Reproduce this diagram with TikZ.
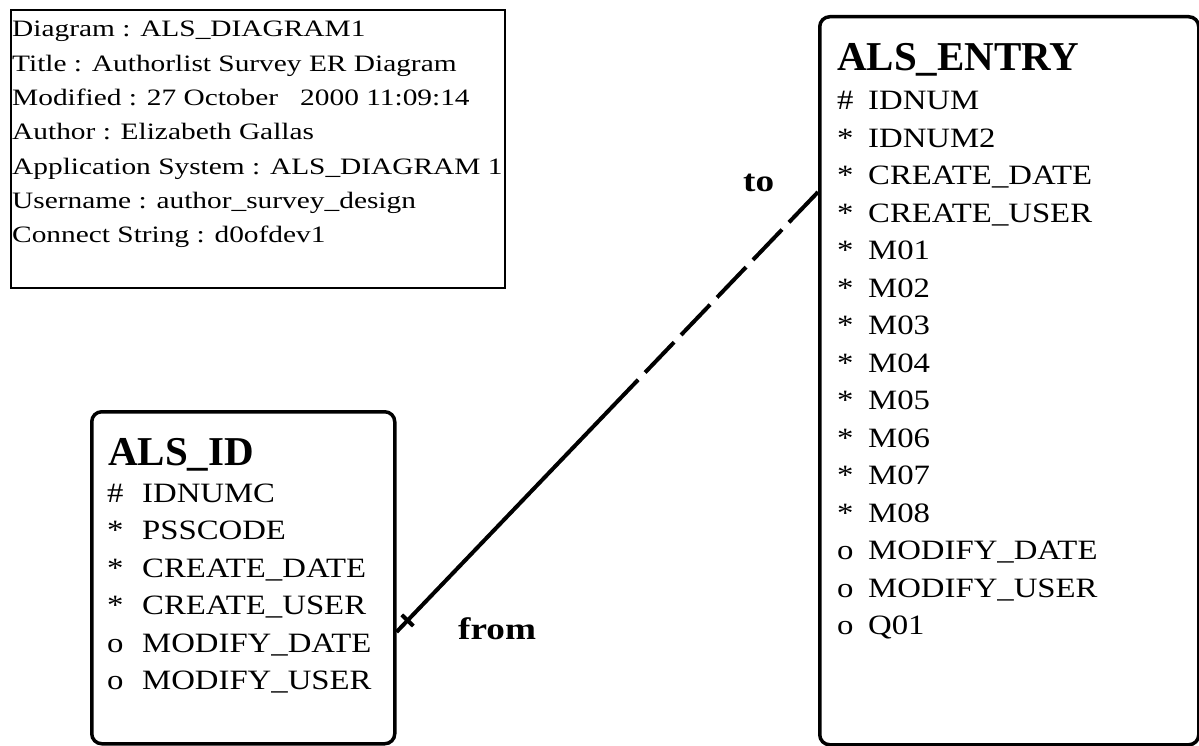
\documentclass[tikz,border=0pt]{standalone}
\usepackage{fontspec}
\setmainfont{Liberation Serif}
\newfontfamily\attrfont[FakeStretch=1.17]{Liberation Serif}
\newfontfamily\infofont[FakeStretch=1.25]{Liberation Serif}
\newfontfamily\lblfont[FakeStretch=1.2]{Liberation Serif}
\usetikzlibrary{calc}
\newlength{\symw}
\newcommand{\attrrow}[2]{\makebox[\symw][l]{#1}#2}
\tikzset{
  entitybox/.style={draw, line width=3.5pt, rounded corners=10pt, inner sep=0pt, anchor=north west},
  infobox/.style={draw, line width=2pt, inner sep=0pt, anchor=north west},
  titletext/.style={anchor=base west, inner sep=0pt, font=\bfseries\fontsize{41}{41}\selectfont},
  attrtext/.style={anchor=base west, inner sep=0pt, font=\attrfont\fontsize{28}{37.5}\selectfont},
  infotext/.style={anchor=base west, inner sep=0pt, font=\infofont\fontsize{23.5}{34.3}\selectfont},
  reltext/.style={anchor=base west, inner sep=0pt, font=\lblfont\bfseries\fontsize{31}{31}\selectfont},
  relline/.style={line width=4pt},
}
\begin{document}
\begin{tikzpicture}[x=1pt,y=-1pt]
\useasboundingbox (0,0) rectangle (1199,746);
\fill[white] (0,0) rectangle (1199,746);

% info box
\node[infobox, minimum width=494pt, minimum height=278pt] (info) at (10,9) {};
\node[infotext] (infolines) at (12,37) {\begin{tabular}[t]{@{}l@{}}
Diagram : ALS\_DIAGRAM1\\
Title : Authorlist Survey ER Diagram\\
Modified : 27 October\ \ \ 2000 11:09:14\\
Author : Elizabeth Gallas\\
Application System : ALS\_DIAGRAM 1\\
Username : author\_survey\_design\\
Connect String : d0ofdev1
\end{tabular}};

% ALS_ENTRY
\node[entitybox, minimum width=379pt, minimum height=728pt] (entry) at (818,15) {};
\node[titletext] (entrytitle) at (837,71) {ALS\_ENTRY};
\node[attrtext] (entryattrs) at (837,110) {\setlength{\symw}{31pt}\begin{tabular}[t]{@{}l@{}}
\attrrow{\#}{IDNUM}\\
\attrrow{*}{IDNUM2}\\
\attrrow{*}{CREATE\_DATE}\\
\attrrow{*}{CREATE\_USER}\\
\attrrow{*}{M01}\\
\attrrow{*}{M02}\\
\attrrow{*}{M03}\\
\attrrow{*}{M04}\\
\attrrow{*}{M05}\\
\attrrow{*}{M06}\\
\attrrow{*}{M07}\\
\attrrow{*}{M08}\\
\attrrow{o}{MODIFY\_DATE}\\
\attrrow{o}{MODIFY\_USER}\\
\attrrow{o}{Q01}
\end{tabular}};

% ALS_ID
\node[entitybox, minimum width=303pt, minimum height=332pt] (alsid) at (90,410) {};
\node[titletext] (idtitle) at (108,465) {ALS\_ID};
\node[attrtext] (idattrs) at (107,502) {\setlength{\symw}{35pt}\begin{tabular}[t]{@{}l@{}}
\attrrow{\#}{IDNUMC}\\
\attrrow{*}{PSSCODE}\\
\attrrow{*}{CREATE\_DATE}\\
\attrrow{*}{CREATE\_USER}\\
\attrrow{o}{MODIFY\_DATE}\\
\attrrow{o}{MODIFY\_USER}
\end{tabular}};

% relationship
\coordinate (toend) at ([yshift=-177pt]entry.north west);
\coordinate (fromend) at ([yshift=-222pt]alsid.north east);
\coordinate (mid) at ($(toend)!0.43!(fromend)$);
\draw[relline, dash pattern=on 42pt off 10pt] (toend) -- (mid);
\draw[relline] (mid) -- (fromend);
\coordinate (barc) at ($(fromend)!16pt!(toend)$);
\draw[relline] ($(barc)!8pt!90:(toend)$) -- ($(barc)!8pt!-90:(toend)$);

\node[reltext] (tolabel) at (743,192) {to};
\node[reltext] (fromlabel) at (458,639) {from};
\end{tikzpicture}
\end{document}
